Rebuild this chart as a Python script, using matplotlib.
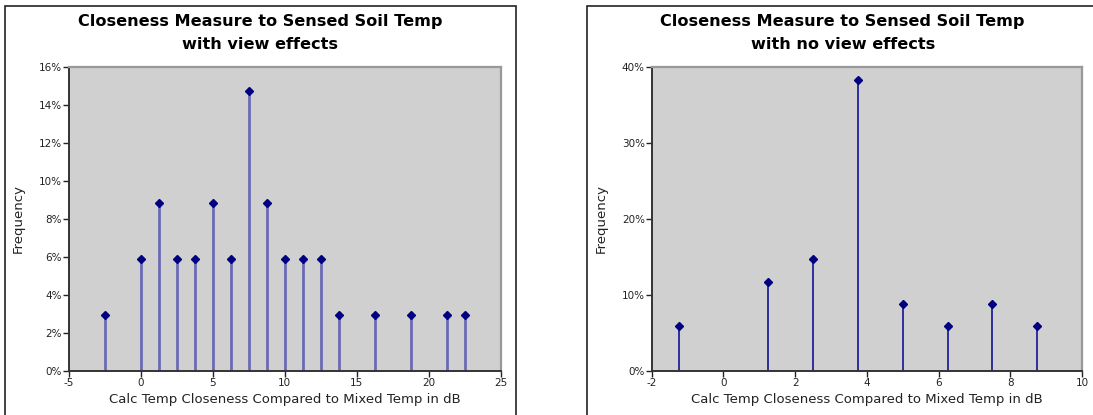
import matplotlib
matplotlib.use("Agg")
import matplotlib.pyplot as plt
from matplotlib.patches import Rectangle
from matplotlib.ticker import PercentFormatter, FuncFormatter
import numpy as np

plt.rcParams['axes.unicode_minus'] = False

# with view effects
x_view = [-2.5, 0, 1.25, 2.5, 3.75, 5, 6.25, 7.5, 8.75, 10, 11.25, 12.5,
          13.75, 16.25, 18.75, 21.25, 22.5]
f_view = [0.0294, 0.0588, 0.0882, 0.0588, 0.0588, 0.0882, 0.0588, 0.1471,
          0.0882, 0.0588, 0.0588, 0.0588, 0.0294, 0.0294, 0.0294, 0.0294, 0.0294]

# with no view effects
x_noview = [-1.25, 1.25, 2.5, 3.75, 5, 6.25, 7.5, 8.75]
f_noview = [0.0588, 0.1176, 0.1471, 0.3824, 0.0882, 0.0588, 0.0882, 0.0588]

titles = ["Closeness Measure to Sensed Soil Temp\nwith view effects",
          "Closeness Measure to Sensed Soil Temp\nwith no view effects"]
xlab = "Calc Temp Closeness Compared to Mixed Temp in dB"
ylab = "Frequency"

W, H = 1093, 415
fig = plt.figure(figsize=(W / 100, H / 100), dpi=100)

def px(x0, y0, x1, y1):
    return [x0 / W, 1 - y1 / H, (x1 - x0) / W, (y1 - y0) / H]

# chart frames
fig.patches.append(Rectangle((5 / W, -0.05), (516 - 5) / W, 1 - 6 / H + 0.05,
                             transform=fig.transFigure, fill=False,
                             edgecolor='#222222', lw=1.2))
fig.patches.append(Rectangle((587 / W, -0.05), (1098 - 587) / W, 1 - 6 / H + 0.05,
                             transform=fig.transFigure, fill=False,
                             edgecolor='#222222', lw=1.2))

def panel(rect, xs, fs, xlim, xstep, ylim, ystep, title, tx, ylx, stemc, stemw):
    ax = fig.add_axes(rect)
    ax.set_facecolor('#d0d0d0')
    ax.vlines(xs, 0, fs, color=stemc, lw=stemw, zorder=2)
    ax.plot(xs, fs, 'D', color='#000080', ms=4.5, zorder=3)
    ax.set_xlim(*xlim)
    ax.set_ylim(*ylim)
    ax.set_xticks(np.arange(xlim[0], xlim[1] + 0.01, xstep))
    ax.set_yticks(np.arange(ylim[0], ylim[1] + 1e-9, ystep))
    ax.yaxis.set_major_formatter(PercentFormatter(1, decimals=0))
    ax.xaxis.set_major_formatter(FuncFormatter(lambda v, p: "%d" % v))
    ax.tick_params(direction='out', length=4, width=1, colors='#222222',
                   labelsize=7.5, pad=1)
    for s in ('top', 'right'):
        ax.spines[s].set_color('#999999')
        ax.spines[s].set_linewidth(1.6)
    for s in ('left', 'bottom'):
        ax.spines[s].set_color('#333333')
        ax.spines[s].set_linewidth(1.4)
    ax.set_xlabel(xlab, fontsize=9.5, color='#222222', labelpad=4)
    fig.text(ylx / W, 1 - 218 / H, ylab, rotation=90, fontsize=9.5,
             color='#222222', ha='center', va='center')
    fig.text(tx / W, 1 - 33 / H, title, fontsize=11.6, fontweight='bold',
             ha='center', va='center', linespacing=1.6)
    return ax

panel(px(69, 66.7, 500.7, 371), x_view, f_view, (-5, 25), 5, (0, 0.16), 0.02,
      titles[0], 260.5, 18, '#6a6ab4', 2)
panel(px(651.7, 66.7, 1082, 371), x_noview, f_noview, (-2, 10), 2, (0, 0.4), 0.1,
      titles[1], 842.7, 601.7, '#22229a', 1.3)

fig.savefig("out.png", dpi=100)
